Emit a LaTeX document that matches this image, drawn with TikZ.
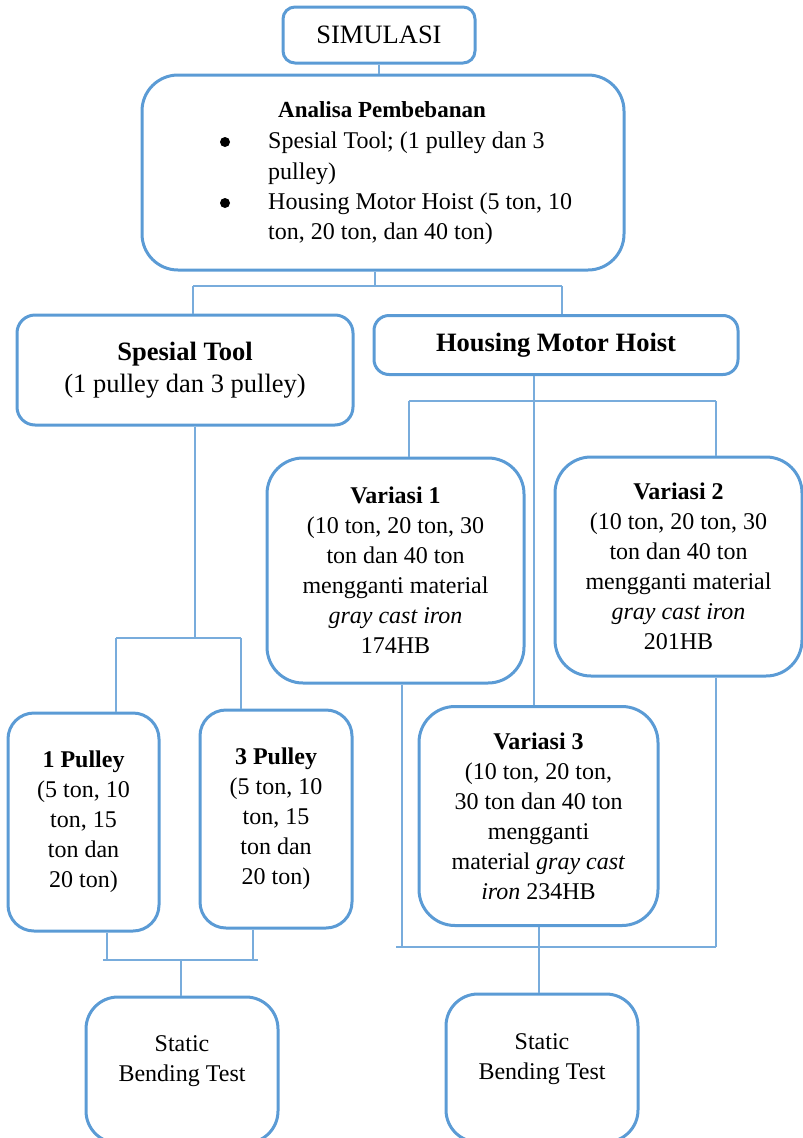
\documentclass[tikz,border=0pt]{standalone}
\usepackage{fontspec}
\setmainfont{Liberation Serif}
\usetikzlibrary{positioning,calc}
\definecolor{kotakbiru}{RGB}{91,155,213}
\definecolor{garisbiru}{RGB}{120,172,220}

\tikzset{
    kotak/.style={draw=kotakbiru,line width=3pt,rounded corners=#1,align=center,
        inner sep=0pt,font=\fontsize{24}{30}\selectfont},
    kotak/.default=30pt,
    teks/.style={inner sep=0pt,align=center,font=\fontsize{24}{30}\selectfont},
    titik/.style={circle,fill=black,inner sep=0pt,minimum size=10pt},
    garis/.style={draw=garisbiru,line width=1.5pt}
}

\begin{document}
\begin{tikzpicture}[x=1pt,y=-1pt]
    \clip (0,0) rectangle (803,1138);

    % Simulasi and loading analysis
    \node[kotak=12pt,minimum width=192pt,minimum height=56pt,font=\fontsize{26.5}{31}\selectfont]
        (simulasi) at (379,35) {SIMULASI};
    \node[kotak=36pt,minimum width=482pt,minimum height=195pt] (analisa) at (383,172.5) {};
    \node[teks,font=\fontsize{23}{30}\selectfont\bfseries] (judul) at (382,110) {Analisa Pembebanan};
    \node[titik] (titik1) at (225,142) {};
    \node[titik] (titik2) at (225,203) {};
    \node[teks,align=left,anchor=west,font=\fontsize{24}{30.3}\selectfont] (daftar) at (268,188.5)
        {Spesial Tool; (1 pulley dan 3\\pulley)\\Housing Motor Hoist (5 ton, 10\\ton, 20 ton, dan 40 ton)};

    % Second level
    \node[kotak=18pt,minimum width=336pt,minimum height=110pt,font=\fontsize{26.5}{32}\selectfont]
        (spesial) at (185,370) {\textbf{Spesial Tool}\\(1 pulley dan 3 pulley)};
    \node[kotak=15pt,minimum width=364pt,minimum height=59pt,font=\fontsize{26.5}{31}\selectfont\bfseries]
        (housing) at (556,345) {Housing Motor Hoist};

    % Material variations
    \node[kotak=36pt,minimum width=257pt,minimum height=225pt] (var1) at (395.5,570.5)
        {\textbf{Variasi 1}\\(10 ton, 20 ton, 30\\ton dan 40 ton\\mengganti material\\\textit{gray cast iron}\\174HB};
    \node[kotak=36pt,minimum width=247pt,minimum height=219pt] (var2) at (678.5,566.5)
        {\textbf{Variasi 2}\\(10 ton, 20 ton, 30\\ton dan 40 ton\\mengganti material\\\textit{gray cast iron}\\201HB};
    \node[kotak=36pt,minimum width=239pt,minimum height=219pt] (var3) at (538.5,816)
        {\textbf{Variasi 3}\\(10 ton, 20 ton,\\30 ton dan 40 ton\\mengganti\\material \textit{gray cast}\\\textit{iron} 234HB};

    % Pulley cases
    \node[kotak=26pt,minimum width=151pt,minimum height=218pt] (pulley1) at (83.5,822)
        {\textbf{1 Pulley}\\(5 ton, 10\\ton, 15\\ton dan\\20 ton)};
    \node[kotak=26pt,minimum width=152pt,minimum height=218pt] (pulley3) at (276,819)
        {\textbf{3 Pulley}\\(5 ton, 10\\ton, 15\\ton dan\\20 ton)};

    % Static bending tests (running off the bottom edge)
    \node[kotak=32pt,minimum width=192pt,minimum height=146pt] (statik1) at (182,1070) {};
    \node[teks] (statik1t) at (182,1061) {Static\\Bending Test};
    \node[kotak=32pt,minimum width=192pt,minimum height=148pt] (statik2) at (542,1068) {};
    \node[teks] (statik2t) at (542,1059) {Static\\Bending Test};

    % Junction points
    \coordinate (j0) at (375,286);
    \coordinate (bus1a) at (193,286);
    \coordinate (bus1b) at (562,286);
    \coordinate (j1) at (195,638);
    \coordinate (bus2a) at (116,638);
    \coordinate (bus2b) at (241,638);
    \coordinate (j2) at (534,401);
    \coordinate (bus3a) at (409,401);
    \coordinate (bus3b) at (716,401);
    \coordinate (bus4a) at (103,960);
    \coordinate (bus4b) at (258,960);
    \coordinate (j4) at (181,960);
    \coordinate (bus5a) at (396,947);
    \coordinate (bus5b) at (716,947);
    \coordinate (j5) at (539,947);

    % Connectors
    \draw[garis] (simulasi.south) -- (simulasi.south |- analisa.north);
    \draw[garis] (analisa.south -| j0) -- (j0);
    \draw[garis] (bus1a) -- (bus1b);
    \draw[garis] (bus1a) -- (bus1a |- spesial.north);
    \draw[garis] (bus1b) -- (bus1b |- housing.north);

    \draw[garis] (spesial.south -| j1) -- (j1);
    \draw[garis] (bus2a) -- (bus2b);
    \draw[garis] (bus2a) -- (bus2a |- pulley1.north);
    \draw[garis] (bus2b) -- (bus2b |- pulley3.north);

    \draw[garis] (housing.south -| j2) -- (j2);
    \draw[garis] (bus3a) -- (bus3b);
    \draw[garis] (bus3a) -- (bus3a |- var1.north);
    \draw[garis] (bus3b) -- (bus3b |- var2.north);
    \draw[garis] (j2) -- (j2 |- var3.north);

    \draw[garis] (pulley1.south -| 107,0) -- (bus4a -| 107,0);
    \draw[garis] (pulley3.south -| 253,0) -- (bus4b -| 253,0);
    \draw[garis] (bus4a) -- (bus4b);
    \draw[garis] (j4) -- (j4 |- statik1.north);

    \draw[garis] (var1.south -| 402,0) -- (bus5a -| 402,0);
    \draw[garis] (var2.south -| bus5b) -- (bus5b);
    \draw[garis] (bus5a) -- (bus5b);
    \draw[garis] (var3.south -| j5) -- (j5 |- statik2.north);
\end{tikzpicture}
\end{document}
